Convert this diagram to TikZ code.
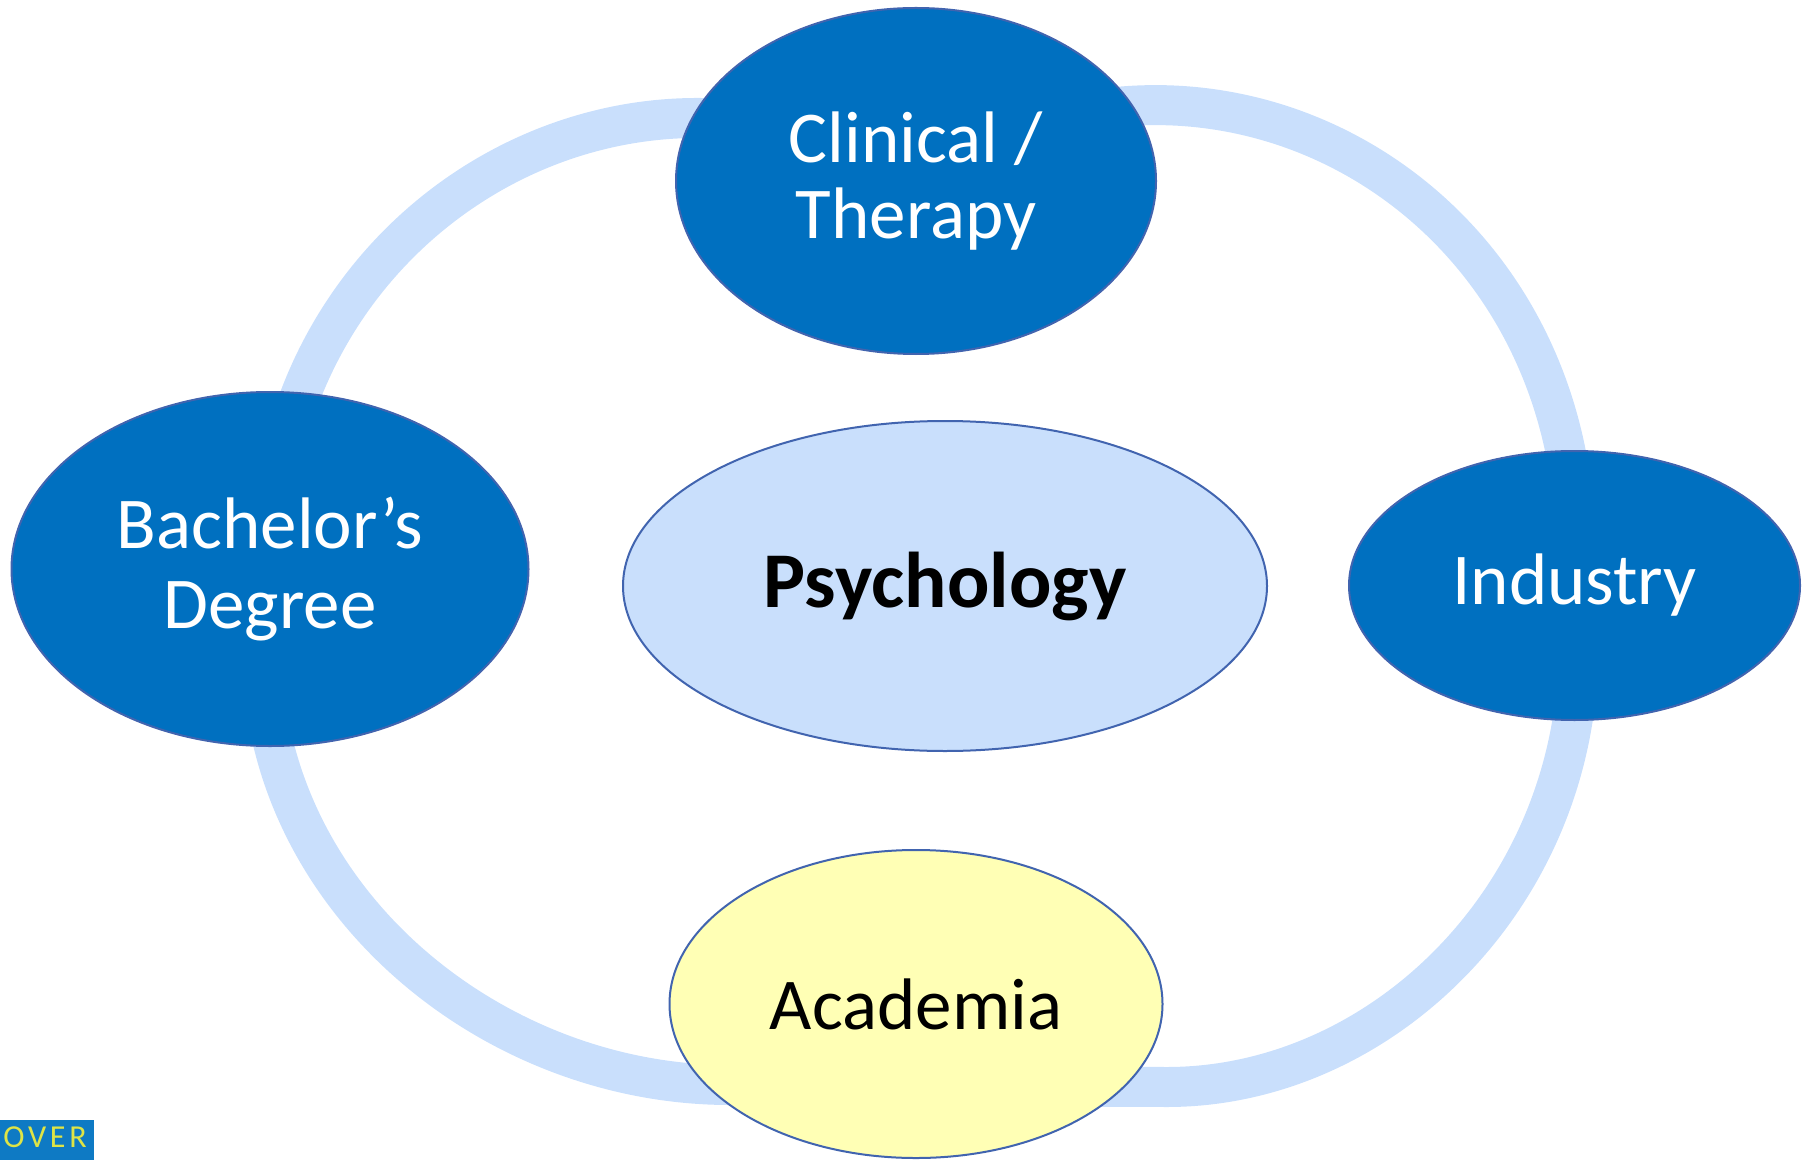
\documentclass[tikz,border=0pt]{standalone}
\usepackage{fontspec}
\setmainfont{Carlito}
\newfontfamily\logofont[LetterSpace=12]{Carlito}
\usetikzlibrary{shapes.geometric,calc}
\pgfdeclarelayer{bg}
\pgfsetlayers{bg,main}
\definecolor{dblue}{RGB}{0,112,192}
\definecolor{bandc}{RGB}{201,223,252}
\definecolor{bord}{RGB}{65,100,175}
\definecolor{ayellow}{RGB}{255,255,181}
\definecolor{logob}{RGB}{14,122,196}
\definecolor{logoy}{RGB}{222,228,70}
\begin{document}
\begin{tikzpicture}[x=0.5pt,y=-0.5pt,
  bub/.style={ellipse, draw=bord, line width=1pt, inner sep=0pt, align=center},
  darkbub/.style={bub, fill=dblue, text=white},
  txtA/.style={font=\fontsize{36.5}{38}\selectfont},
  txtB/.style={font=\fontsize{36.5}{40}\selectfont},
  bandline/.style={draw=bandc, line width=20pt}]
\useasboundingbox (0,0) rectangle (1802,1160);
% nodes
\node[darkbub, txtA, minimum width=240pt, minimum height=173pt] (clin) at (916,181) {Clinical /\\Therapy};
\node[darkbub, txtB, minimum width=258.5pt, minimum height=177pt] (bach) at (270,569) {Bachelor’s\\Degree};
\node[darkbub, txtA, minimum width=225.5pt, minimum height=134.5pt] (ind) at (1574.5,585.5) {Industry};
\node[bub, fill=bandc, text=black, font=\bfseries\fontsize{39.5}{40}\selectfont, minimum width=322pt, minimum height=165pt] (psy) at (945,586) {Psychology};
\node[bub, fill=ayellow, text=black, txtA, minimum width=246.5pt, minimum height=154pt] (aca) at (916,1004) {Academia};
\coordinate (acab) at ($(aca.center)+(0,82)$);
% cycle band
\begin{pgfonlayer}{bg}
\draw[bandline] (bach.center) .. controls (265,221) and (627,4) .. (clin.center);
\draw[bandline] (clin.center) .. controls (1212,-20) and (1598,200) .. (ind.center);
\draw[bandline] (ind.center) .. controls (1610,862) and (1400,1087) .. (1167,1087) -- (acab);
\draw[bandline] (acab) -- (730,1085) .. controls (462,1085) and (214,853) .. (bach.center);
\end{pgfonlayer}
% logo
\node[fill=logob, anchor=north west, inner sep=0pt, minimum width=47pt, minimum height=20pt] (logo) at (0,1120) {};
\node[anchor=base west, inner sep=0pt, text=logoy, font=\logofont\fontsize{16}{16}\selectfont] (logotext) at (3,1147) {OVER};
\end{tikzpicture}
\end{document}
